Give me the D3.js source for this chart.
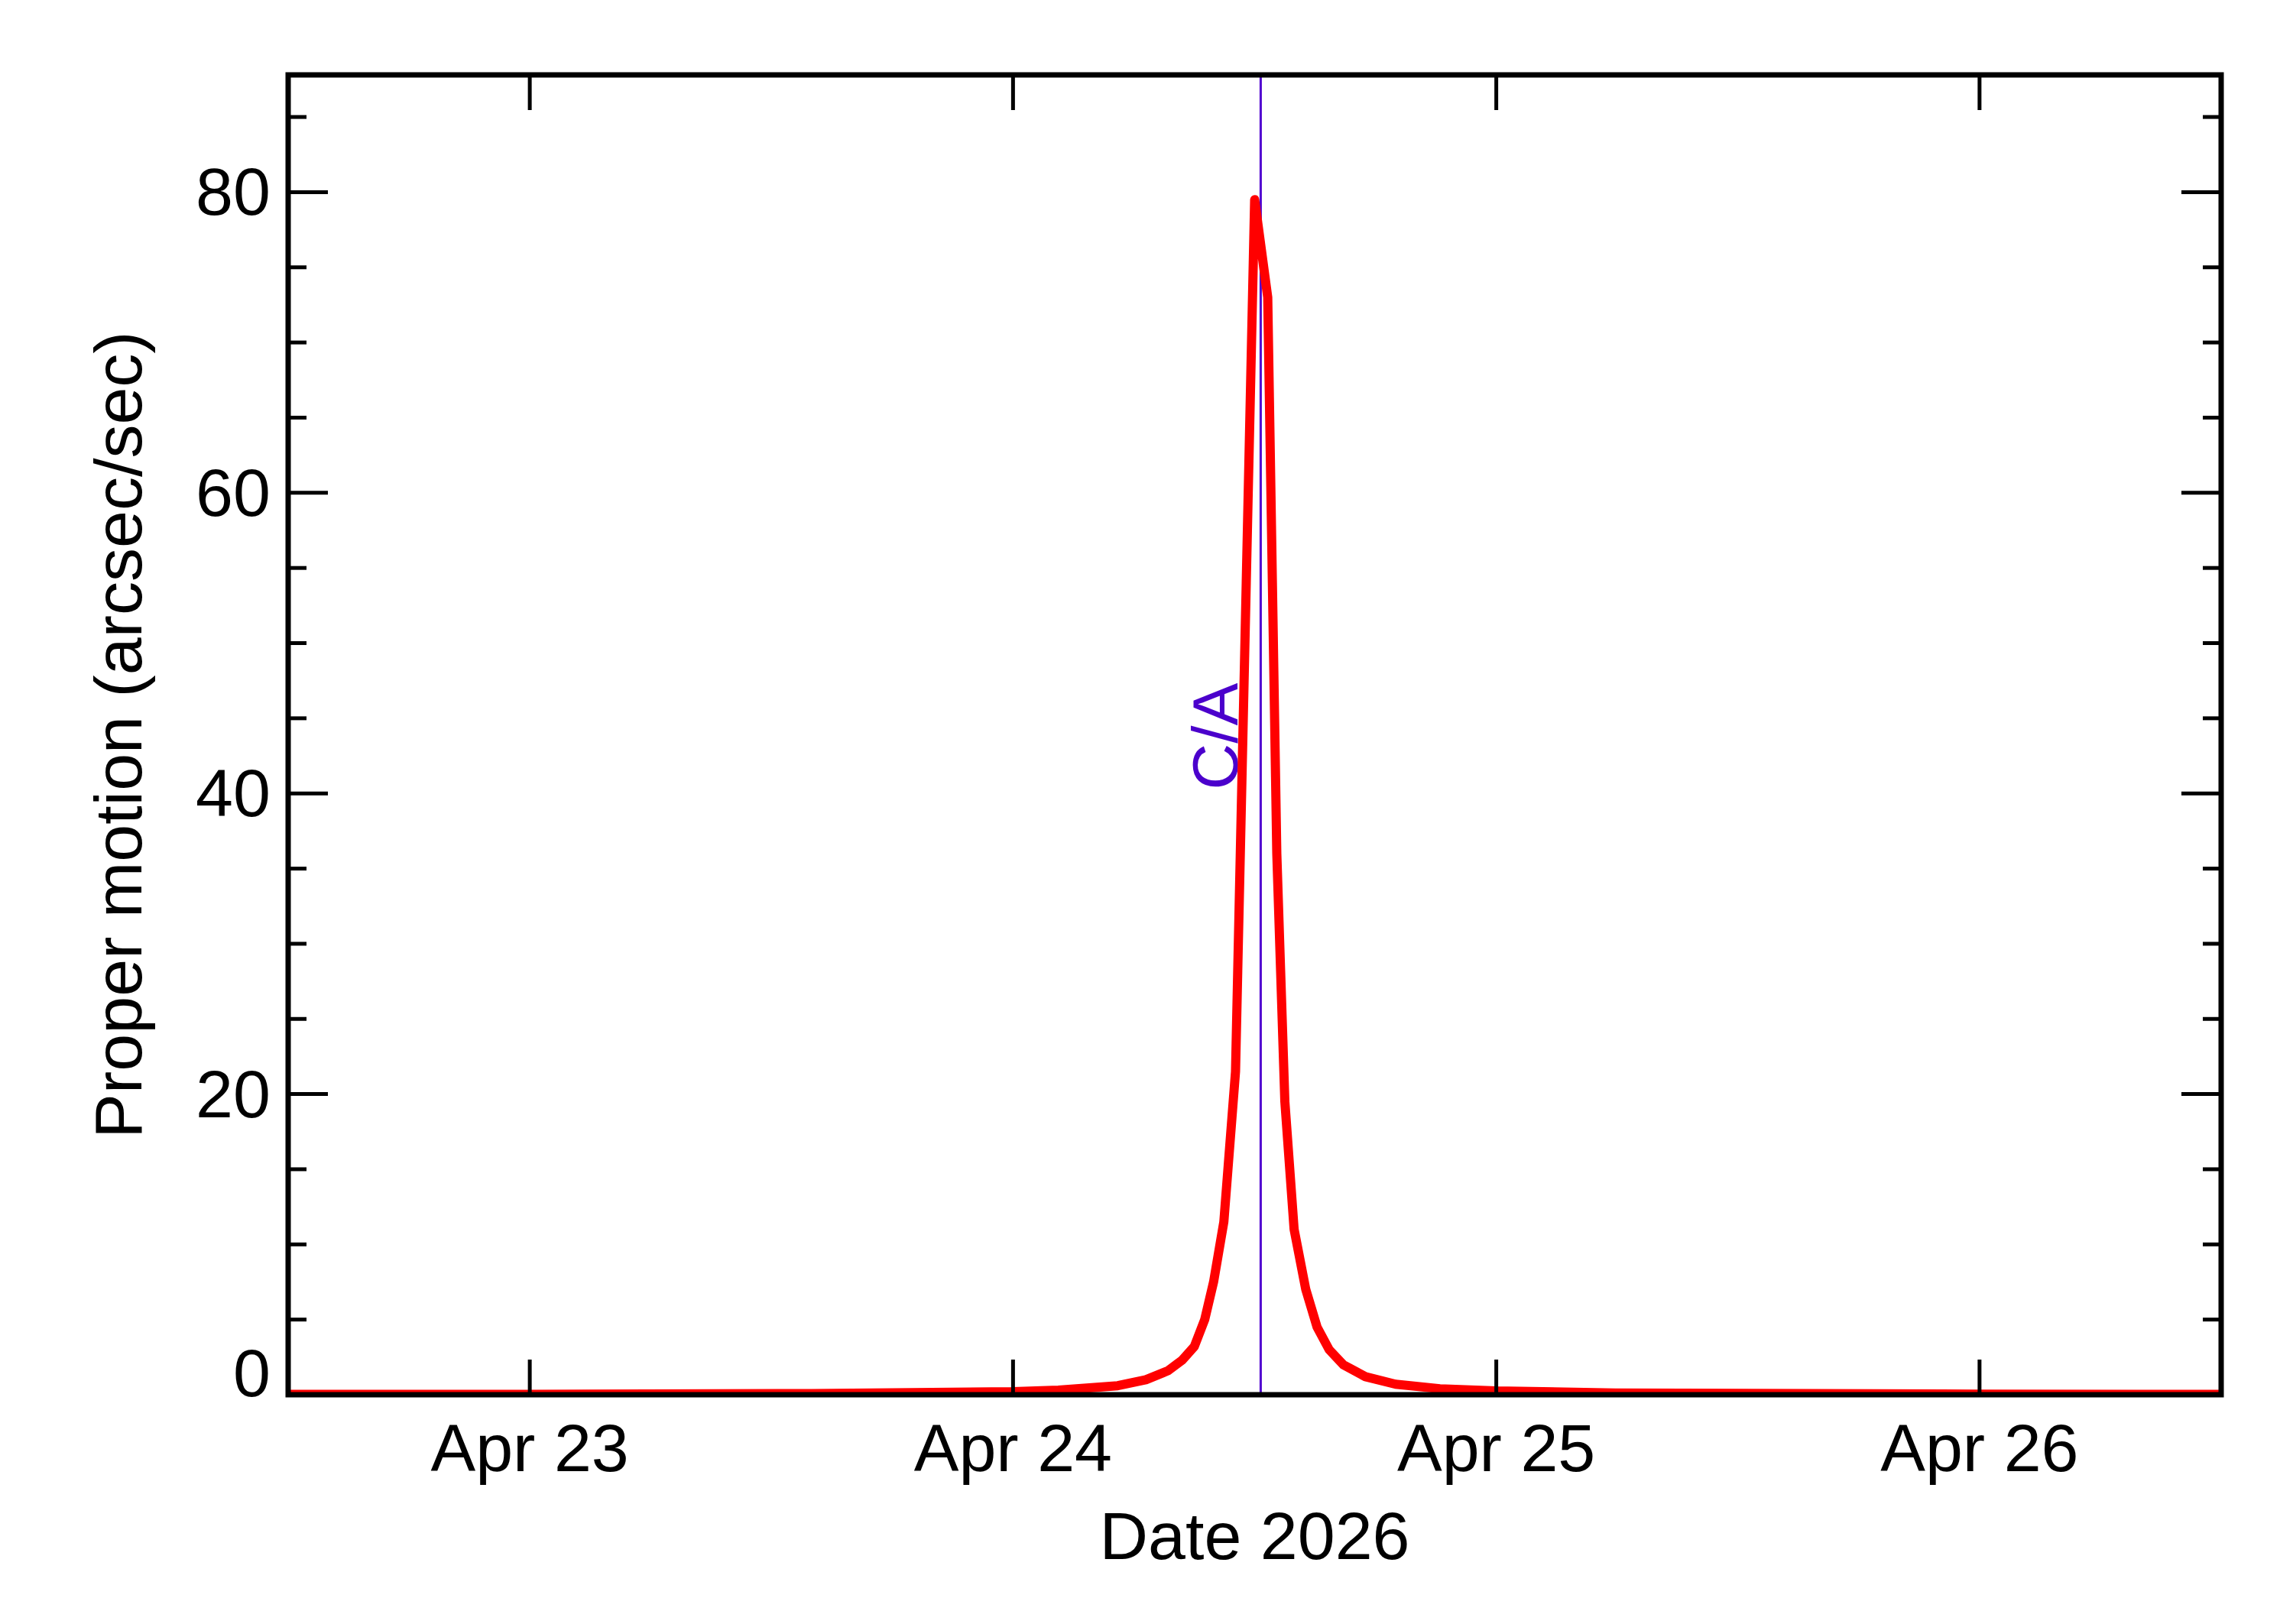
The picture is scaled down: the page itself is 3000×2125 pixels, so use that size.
<!DOCTYPE html>
<html><head><meta charset="utf-8">
<script src="https://cdn.jsdelivr.net/npm/d3@7"></script>
<style>body{margin:0;background:#fff}text{font-family:"Liberation Sans",Arial,sans-serif}</style>
</head><body><svg id="c" width="3000" height="2125"></svg>
<script>
// hours from Apr 24 00:00 (2026) and proper motion (arcsec/sec)
const hours = [-36,-24,-10,0,2.25,5.2,6.6,7.7,8.4,9.0,9.52,9.96,10.47,11.05,12.0,12.65,13.1,13.5,13.96,14.54,15.1,15.7,16.4,17.5,19,21.2,24,29.9,48,60];
const motion = [0.02,0.03,0.08,0.2,0.3,0.6,1.0,1.6,2.3,3.2,5,7.5,11.5,21.5,79.5,73,36,19.5,11,7,4.5,3,2,1.2,0.7,0.4,0.25,0.12,0.04,0.02];
const xTickLabels = ["Apr 23","Apr 24","Apr 25","Apr 26"];
const yTicks = [0,20,40,60,80];
const caHour = 12.3;

const base = new Date(Date.UTC(2026,3,24));
const t = h => new Date(base.getTime()+h*3600e3);
const svg = d3.select("#c");
const L=377,R=2906,T=98,B=1825;
const x = d3.scaleUtc().domain([t(-36),t(60)]).range([L,R]);
const y = d3.scaleLinear().domain([0,87.8]).range([B,T]);

svg.append("defs").append("clipPath").attr("id","cp").append("rect").attr("x",L).attr("y",T-20).attr("width",R-L).attr("height",B-T+20);

// CA line
svg.append("line").attr("x1",x(t(caHour))).attr("x2",x(t(caHour))).attr("y1",T).attr("y2",B).attr("stroke","#5000d0").attr("stroke-width",3);
svg.append("text").attr("transform",`translate(${x(t(caHour))-30},${y(43.8)}) rotate(-90)`).attr("text-anchor","middle")
 .attr("font-size",84).attr("fill","#4b00cc").text("C/A");

// data line
svg.append("path").datum(hours.map((h,i)=>[h,motion[i]])).attr("clip-path","url(#cp)")
 .attr("d",d3.line().x(d=>x(t(d[0]))).y(d=>y(d[1]))).attr("fill","none").attr("stroke","#ff0000").attr("stroke-width",12).attr("stroke-linejoin","round");

// frame
svg.append("rect").attr("x",L).attr("y",T).attr("width",R-L).attr("height",B-T).attr("fill","none").attr("stroke","#000").attr("stroke-width",7);

const g = svg.append("g").attr("stroke","#000").attr("stroke-width",5);
d3.range(0,86,5).forEach(v=>{
  const len = v%20===0?52:24;
  g.append("line").attr("x1",L).attr("x2",L+len).attr("y1",y(v)).attr("y2",y(v));
  g.append("line").attr("x1",R).attr("x2",R-len).attr("y1",y(v)).attr("y2",y(v));
});
xTickLabels.forEach((lab,i)=>{
  const xx = x(t(-24+24*i));
  g.append("line").attr("x1",xx).attr("x2",xx).attr("y1",B).attr("y2",B-46);
  g.append("line").attr("x1",xx).attr("x2",xx).attr("y1",T).attr("y2",T+46);
  svg.append("text").attr("x",xx).attr("y",1925).attr("text-anchor","middle").attr("font-size",88).text(lab);
});
yTicks.forEach(v=>{
  svg.append("text").attr("x",354).attr("y",y(v)+(v===0?2:30)).attr("text-anchor","end").attr("font-size",88).text(v);
});
svg.append("text").attr("x",(L+R)/2).attr("y",2040).attr("text-anchor","middle").attr("font-size",88).text("Date 2026");
svg.append("text").attr("transform",`translate(185,${(T+B)/2}) rotate(-90)`).attr("text-anchor","middle").attr("font-size",88).text("Proper motion (arcsec/sec)");
</script></body></html>
